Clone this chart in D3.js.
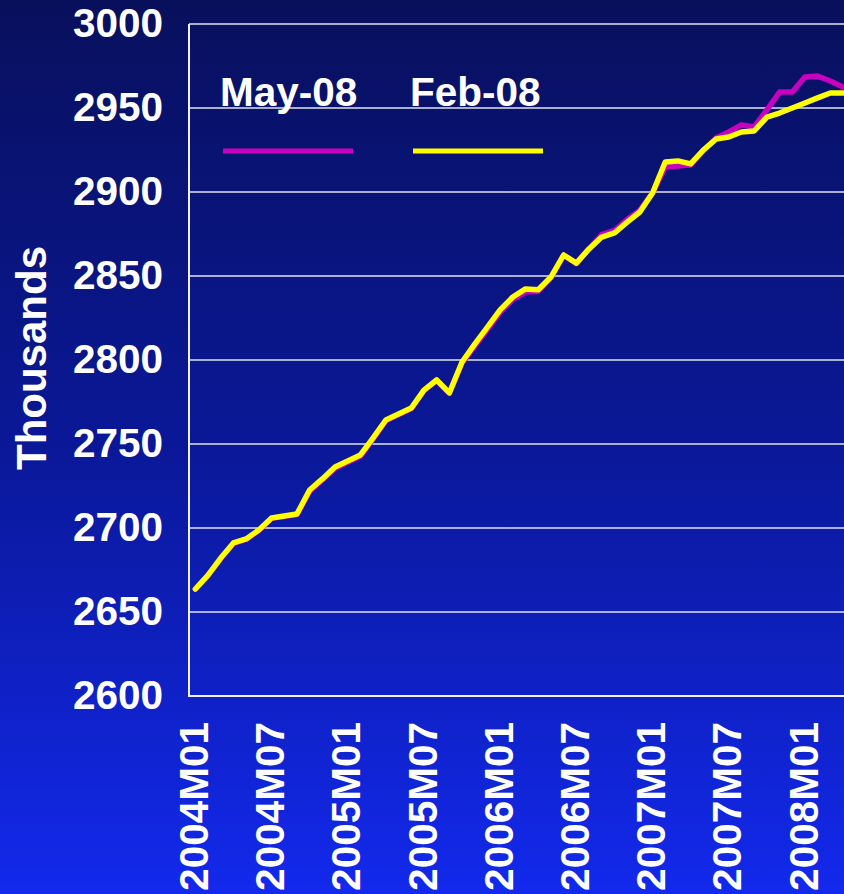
<!DOCTYPE html>
<html>
<head>
<meta charset="utf-8">
<script src="https://cdn.jsdelivr.net/npm/d3@7"></script>
<style>
  html, body { margin: 0; padding: 0; background: #0b1890; overflow: hidden; }
  svg { display: block; }
  text { font-family: Arial, "Liberation Sans", sans-serif; font-weight: bold; fill: #ffffff; }
</style>
</head>
<body>
<svg id="chart"></svg>
<script>
// Categories (monthly)
const months = [
  "2004M01","2004M02","2004M03","2004M04","2004M05","2004M06","2004M07","2004M08","2004M09","2004M10","2004M11","2004M12",
  "2005M01","2005M02","2005M03","2005M04","2005M05","2005M06","2005M07","2005M08","2005M09","2005M10","2005M11","2005M12",
  "2006M01","2006M02","2006M03","2006M04","2006M05","2006M06","2006M07","2006M08","2006M09","2006M10","2006M11","2006M12",
  "2007M01","2007M02","2007M03","2007M04","2007M05","2007M06","2007M07","2007M08","2007M09","2007M10","2007M11","2007M12",
  "2008M01","2008M02","2008M03","2008M04"
];

// Series values (thousands)
const may08 = [
  2663.5, 2671.8, 2681.8, 2690.8, 2693.2, 2698.5, 2705.8, 2706.8, 2708.0, 2721.8, 2728.4, 2735.4,
  2739.1, 2742.7, 2753.0, 2763.8, 2767.5, 2771.0, 2781.8, 2787.9, 2780.2, 2798.2, 2808.2, 2818.2,
  2828.4, 2836.0, 2840.6, 2840.8, 2849.0, 2862.3, 2857.5, 2866.3, 2874.6, 2877.1, 2883.6, 2889.2,
  2899.4, 2914.9, 2915.5, 2916.1, 2924.4, 2932.1, 2935.7, 2939.9, 2938.7, 2948.8, 2959.5, 2959.5,
  2968.5, 2969.0, 2966.1, 2962.5
];
const feb08 = [
  2663.7, 2672.0, 2682.1, 2691.1, 2693.5, 2698.8, 2706.0, 2707.1, 2708.3, 2722.6, 2729.2, 2736.3,
  2739.9, 2743.5, 2753.6, 2764.3, 2767.9, 2771.4, 2782.1, 2788.1, 2780.4, 2798.8, 2809.5, 2819.6,
  2829.8, 2837.5, 2842.3, 2841.8, 2849.4, 2862.5, 2857.7, 2866.1, 2873.2, 2875.6, 2882.1, 2888.1,
  2899.4, 2917.9, 2918.5, 2916.7, 2925.0, 2931.5, 2932.7, 2935.7, 2936.3, 2944.6, 2947.0, 2950.0,
  2953.0, 2956.0, 2958.9, 2958.9
];

// Tick labels
const yTicks = [2600, 2650, 2700, 2750, 2800, 2850, 2900, 2950, 3000];
const xTickLabels = ["2004M01","2004M07","2005M01","2005M07","2006M01","2006M07","2007M01","2007M07","2008M01"];

const series = [
  { name: "May-08", values: may08, color: "#c800c0" },
  { name: "Feb-08", values: feb08, color: "#ffff00" }
];

const width = 844;
const height = 894;
const margin = { left: 189, top: 24, bottom: 198 };
const plotBottom = height - margin.bottom;
const bandStep = 12.7;
const fontSize = "40.5px";

const svg = d3.select("#chart").attr("width", width).attr("height", height);

// Background gradient
const defs = svg.append("defs");
const grad = defs.append("linearGradient")
  .attr("id", "bg").attr("x1", 0).attr("y1", 0).attr("x2", 0).attr("y2", 1);
grad.append("stop").attr("offset", "0%").attr("stop-color", "#08105c");
grad.append("stop").attr("offset", "50%").attr("stop-color", "#0a1898");
grad.append("stop").attr("offset", "100%").attr("stop-color", "#1329ec");
svg.append("rect").attr("width", width).attr("height", height).attr("fill", "url(#bg)");

// Scales
const x = d3.scaleBand()
  .domain(months)
  .range([margin.left, margin.left + months.length * bandStep])
  .padding(0);
const xc = d => x(d) + x.bandwidth() / 2;

const y = d3.scaleLinear().domain([2600, 3000]).range([plotBottom, margin.top]);

// Gridlines
svg.append("g")
  .selectAll("line")
  .data(yTicks.filter(t => t > 2600))
  .join("line")
  .attr("x1", margin.left)
  .attr("x2", width)
  .attr("y1", d => y(d))
  .attr("y2", d => y(d))
  .attr("stroke", "#e2e4ee")
  .attr("stroke-width", 1.5);

// Y axis
const yAxis = svg.append("g")
  .attr("transform", `translate(${margin.left},0)`)
  .call(d3.axisLeft(y).tickValues(yTicks).tickSize(0).tickPadding(26).tickFormat(d3.format("d")));
yAxis.select(".domain").remove();
yAxis.selectAll("text")
  .style("font-size", fontSize)
  .style("font-family", "Arial, 'Liberation Sans', sans-serif")
  .attr("fill", "#fff");

// X axis
const xAxis = svg.append("g")
  .attr("transform", `translate(0,${plotBottom})`)
  .call(d3.axisBottom(x).tickValues(xTickLabels).tickSize(0));
xAxis.select(".domain").remove();
xAxis.selectAll("text")
  .style("font-size", fontSize)
  .style("font-family", "Arial, 'Liberation Sans', sans-serif")
  .attr("fill", "#fff")
  .attr("text-anchor", "end")
  .attr("transform", "rotate(-90)")
  .attr("x", -26)
  .attr("y", -2)
  .attr("dy", "0.36em");

// Axis frame lines
svg.append("line")
  .attr("x1", margin.left).attr("x2", margin.left)
  .attr("y1", margin.top).attr("y2", plotBottom)
  .attr("stroke", "#f0f0f8").attr("stroke-width", 2);
svg.append("line")
  .attr("x1", margin.left - 1).attr("x2", width)
  .attr("y1", plotBottom).attr("y2", plotBottom)
  .attr("stroke", "#f0f0f8").attr("stroke-width", 2);

// Y title
svg.append("text")
  .attr("transform", "translate(31,358) rotate(-90)")
  .attr("text-anchor", "middle")
  .attr("dy", "0.36em")
  .style("font-size", "42px")
  .text("Thousands");

// Lines
const line = d3.line()
  .x((d, i) => xc(months[i]))
  .y(d => y(d));

svg.append("g")
  .selectAll("path")
  .data(series)
  .join("path")
  .attr("d", d => line(d.values))
  .attr("fill", "none")
  .attr("stroke", d => d.color)
  .attr("stroke-width", 5.5)
  .attr("stroke-linejoin", "round")
  .attr("stroke-linecap", "round");

// Legend
const legendX = [220, 410];
const legend = svg.append("g")
  .selectAll("g")
  .data(series)
  .join("g")
  .attr("transform", (d, i) => `translate(${legendX[i]},0)`);
legend.append("text")
  .attr("x", 0)
  .attr("y", 106)
  .style("font-size", fontSize)
  .text(d => d.name);
legend.append("line")
  .attr("x1", 3).attr("x2", 133)
  .attr("y1", 151).attr("y2", 151)
  .attr("stroke", d => d.color)
  .attr("stroke-width", 5);
</script>
</body>
</html>
